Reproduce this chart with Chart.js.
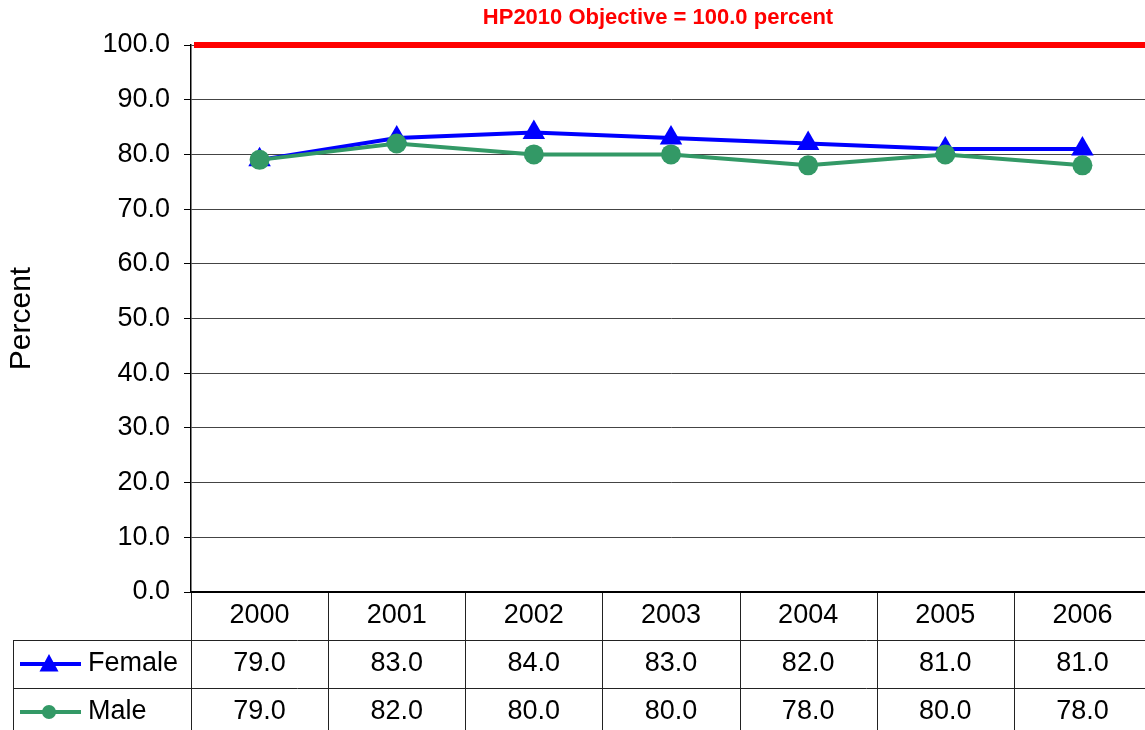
<!DOCTYPE html>
<html>
<head>
<meta charset="utf-8">
<script src="https://cdn.jsdelivr.net/npm/chart.js@4.4.1/dist/chart.umd.min.js"></script>
<style>
  html, body { margin: 0; padding: 0; background: #fff; overflow: hidden; }
  canvas { display: block; }
</style>
</head>
<body>
<!-- the original plot runs a few pixels past the right edge of the picture -->
<canvas id="chart" width="1151" height="730"></canvas>
<script>
const years = ['2000', '2001', '2002', '2003', '2004', '2005', '2006'];
const female = [79.0, 83.0, 84.0, 83.0, 82.0, 81.0, 81.0];
const male = [79.0, 82.0, 80.0, 80.0, 78.0, 80.0, 78.0];
const objective = 100.0;
const objectiveLabel = 'HP2010 Objective = 100.0 percent';
const yMin = 0;
const yMax = 100;
const yStep = 10;

const FONT = "'Liberation Sans', Arial, sans-serif";
const BLUE = '#0000ff';
const GREEN = '#339966';
const RED = '#ff0000';

// table rows under the plot: year row, then one row per series
const ROW_H = 48;
const TABLE_LEFT = 13;

function drawTriangle(ctx, x, y, r) {
  ctx.beginPath();
  ctx.moveTo(x, y - r);
  ctx.lineTo(x + r * 0.95, y + r * 0.75);
  ctx.lineTo(x - r * 0.95, y + r * 0.75);
  ctx.closePath();
  ctx.fill();
}

const extras = {
  id: 'extras',
  beforeDatasetsDraw(chart) {
    const { ctx, chartArea } = chart;
    const y = chart.scales.y.getPixelForValue(objective);
    ctx.save();
    ctx.strokeStyle = RED;
    ctx.lineWidth = 6;
    ctx.beginPath();
    ctx.moveTo(chartArea.left + 3, y);
    ctx.lineTo(chart.width, y);
    ctx.stroke();
    ctx.restore();
  },
  afterDraw(chart) {
    const { ctx, chartArea } = chart;
    const xs = chart.scales.x;
    const top = chartArea.bottom;
    const right = chart.width;

    ctx.save();
    // objective title
    ctx.fillStyle = RED;
    ctx.font = `bold 22px ${FONT}`;
    ctx.textAlign = 'center';
    ctx.textBaseline = 'middle';
    ctx.fillText(objectiveLabel, 658, 18);

    // table borders
    ctx.strokeStyle = '#222';
    ctx.lineWidth = 1;
    ctx.beginPath();
    for (let r = 1; r <= 2; r++) {
      const ly = Math.round(top + r * ROW_H) + 0.5;
      ctx.moveTo(TABLE_LEFT, ly);
      ctx.lineTo(right, ly);
    }
    ctx.moveTo(TABLE_LEFT + 0.5, top + ROW_H);
    ctx.lineTo(TABLE_LEFT + 0.5, chart.height);
    const bounds = [chartArea.left];
    for (let i = 1; i < years.length; i++) {
      bounds.push((xs.getPixelForValue(i - 1) + xs.getPixelForValue(i)) / 2);
    }
    bounds.push(chartArea.right);
    bounds.forEach((bx) => {
      const vx = Math.round(bx) + 0.5;
      ctx.moveTo(vx, top);
      ctx.lineTo(vx, chart.height);
    });
    ctx.stroke();

    // plot baseline
    ctx.strokeStyle = '#000';
    ctx.lineWidth = 2;
    ctx.beginPath();
    ctx.moveTo(chartArea.left, top);
    ctx.lineTo(right, top);
    ctx.stroke();

    // values
    ctx.fillStyle = '#000';
    ctx.font = `27px ${FONT}`;
    ctx.textAlign = 'center';
    ctx.textBaseline = 'middle';
    years.forEach((yr, i) => {
      const cx = xs.getPixelForValue(i);
      ctx.fillText(yr, cx, top + ROW_H * 0.5);
      ctx.fillText(female[i].toFixed(1), cx, top + ROW_H * 1.5);
      ctx.fillText(male[i].toFixed(1), cx, top + ROW_H * 2.5);
    });

    // legend keys
    const rowsY = [top + ROW_H * 1.5, top + ROW_H * 2.5];
    ctx.lineWidth = 4;
    ctx.strokeStyle = BLUE;
    ctx.beginPath();
    ctx.moveTo(20, rowsY[0]);
    ctx.lineTo(81, rowsY[0]);
    ctx.stroke();
    ctx.fillStyle = BLUE;
    drawTriangle(ctx, 49, rowsY[0], 10);
    ctx.strokeStyle = GREEN;
    ctx.beginPath();
    ctx.moveTo(20, rowsY[1]);
    ctx.lineTo(81, rowsY[1]);
    ctx.stroke();
    ctx.fillStyle = GREEN;
    ctx.beginPath();
    ctx.arc(49, rowsY[1], 7, 0, Math.PI * 2);
    ctx.fill();

    ctx.fillStyle = '#000';
    ctx.textAlign = 'left';
    ctx.fillText('Female', 88, rowsY[0]);
    ctx.fillText('Male', 88, rowsY[1]);
    ctx.restore();
  }
};

new Chart(document.getElementById('chart'), {
  type: 'line',
  data: {
    labels: years,
    datasets: [
      {
        label: 'Female',
        data: female,
        borderColor: BLUE,
        backgroundColor: BLUE,
        borderWidth: 4,
        pointStyle: 'triangle',
        pointRadius: 13,
        pointBorderWidth: 0,
        tension: 0,
        order: 1
      },
      {
        label: 'Male',
        data: male,
        borderColor: GREEN,
        backgroundColor: GREEN,
        borderWidth: 4,
        pointStyle: 'circle',
        pointRadius: 10,
        pointBorderWidth: 0,
        tension: 0,
        order: 0
      }
    ]
  },
  options: {
    responsive: false,
    animation: false,
    devicePixelRatio: 1,
    layout: { autoPadding: false, padding: { top: 45, bottom: 138, left: 0, right: 0 } },
    plugins: {
      legend: { display: false },
      title: { display: false },
      tooltip: { enabled: false }
    },
    scales: {
      x: {
        display: false,
        offset: true
      },
      y: {
        min: yMin,
        max: yMax,
        afterFit(scale) { scale.width = 191; },
        ticks: {
          stepSize: yStep,
          padding: 14,
          color: '#000',
          font: { family: FONT, size: 27 },
          callback: (v) => Number(v).toFixed(1)
        },
        grid: {
          color: '#444',
          lineWidth: 1,
          tickLength: 7,
          tickColor: '#000'
        },
        border: { color: '#000', width: 1.5 },
        title: {
          display: true,
          text: 'Percent',
          color: '#000',
          font: { family: FONT, size: 30 },
          padding: { top: 4, bottom: 0 }
        }
      }
    }
  },
  plugins: [extras]
});
</script>
</body>
</html>
